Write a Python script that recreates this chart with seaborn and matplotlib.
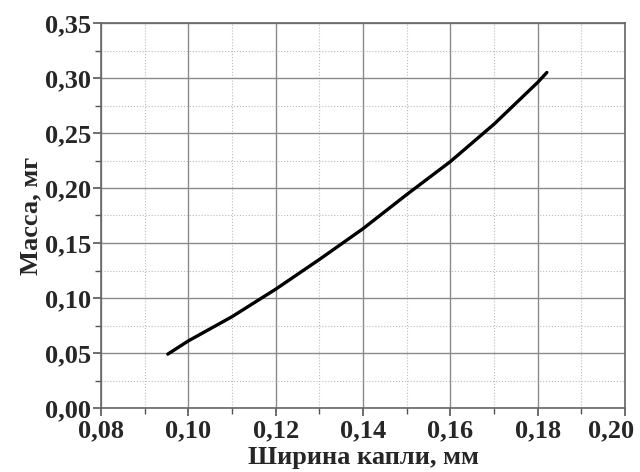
import matplotlib
matplotlib.use("Agg")
import matplotlib.pyplot as plt
import matplotlib.transforms as mtransforms
import seaborn as sns
import pandas as pd
from matplotlib.ticker import MultipleLocator, FuncFormatter

width_mm = [0.0953, 0.100, 0.110, 0.120, 0.130, 0.140, 0.150, 0.160, 0.170, 0.180, 0.1821]
mass_mg = [0.049, 0.061, 0.083, 0.108, 0.135, 0.163, 0.194, 0.224, 0.258, 0.296, 0.305]

df = pd.DataFrame({"w": width_mm, "m": mass_mg})

sns.set_style("white")
plt.rcParams['font.family'] = ['Liberation Serif', 'DejaVu Serif']
plt.rcParams['font.weight'] = 'bold'

fig = plt.figure(figsize=(6.4, 4.72), dpi=100)
ax = fig.add_axes([101/640, 1 - 408/472, (625-101)/640, (408-23)/472])

sns.lineplot(data=df, x="w", y="m", ax=ax, color="black", linewidth=2.4)

ax.set_xlim(0.08, 0.20)
ax.set_ylim(0.0, 0.35)
ax.xaxis.set_major_locator(MultipleLocator(0.02))
ax.xaxis.set_minor_locator(MultipleLocator(0.01))
ax.yaxis.set_major_locator(MultipleLocator(0.05))
ax.yaxis.set_minor_locator(MultipleLocator(0.025))

fmt = FuncFormatter(lambda v, p: f"{v:.2f}".replace(".", ","))
ax.xaxis.set_major_formatter(fmt)
ax.yaxis.set_major_formatter(fmt)

ax.grid(which="major", color="#8a8a8a", linewidth=1.0, linestyle="-")
ax.grid(which="minor", color="#bbbbbb", linewidth=0.8, linestyle=":")

ax.tick_params(which="major", direction="out", length=6, width=1.2, color="#555555",
               labelsize=19, bottom=True, left=True)
ax.tick_params(axis="x", which="major", pad=2)
ax.tick_params(axis="y", which="major", pad=1)
ax.tick_params(which="minor", direction="out", length=4, width=1.0, color="#555555",
               bottom=True, left=True)
for lab in ax.get_xticklabels() + ax.get_yticklabels():
    lab.set_fontweight("bold")

for s in ax.spines.values():
    s.set_color("#666666")
    s.set_linewidth(1.2)

ax.set_xlabel("Ширина капли, мм", fontsize=19, fontweight="bold", labelpad=3)
ax.set_ylabel("Масса, мг", fontsize=19, fontweight="bold", labelpad=2)

fig.canvas.draw()
xlabs = ax.get_xticklabels()
shift = mtransforms.ScaledTranslation(-14/100, 0, fig.dpi_scale_trans)
for lab in xlabs:
    if lab.get_text() == "0,20":
        lab.set_transform(lab.get_transform() + shift)

fig.savefig("out.png", dpi=100)
